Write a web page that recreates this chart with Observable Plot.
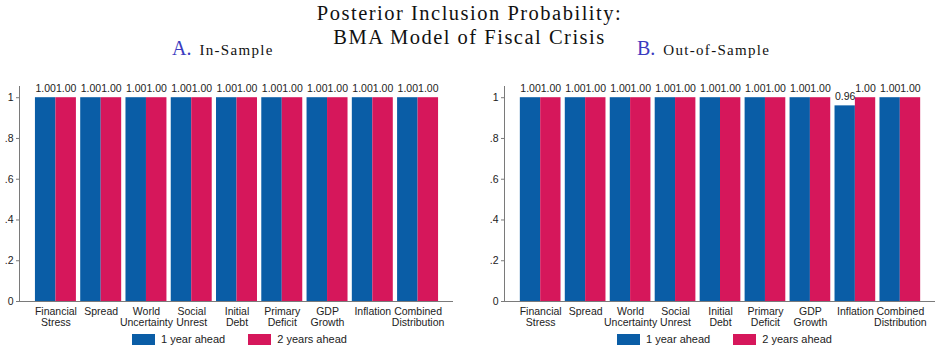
<!DOCTYPE html>
<html>
<head>
<meta charset="utf-8">
<script src="https://cdn.jsdelivr.net/npm/d3@7"></script>
<script src="https://cdn.jsdelivr.net/npm/@observablehq/plot@0.6"></script>
<style>
  body { margin: 0; background: #fff; }
  #chart { position: relative; width: 939px; height: 350px; overflow: hidden; }
  .title { position: absolute; left: 0; width: 939px; text-align: center;
           font-family: "Liberation Serif", "Times New Roman", serif; font-size: 20.5px; line-height: 23px;
           letter-spacing: 1.5px; color: #111; }
  .ptitle { position: absolute; top: 37px; font-family: "Liberation Serif", serif; color: #111; white-space: nowrap; }
  .ptitle .lt { color: #3b3bbf; font-size: 20px; margin-right: 4px; }
  .ptitle .nm { font-size: 15px; letter-spacing: 1.3px; }
  .panel { position: absolute; top: 60px; }
  .legend { position: absolute; top: 333px; font-family: "Liberation Sans", Arial, sans-serif; font-size: 11px; color: #222; white-space: nowrap; }
  .legend span.sw { display: inline-block; width: 23px; height: 11px; vertical-align: -2px; margin-right: 6px; }
  .legend span.it { margin-right: 23px; }
</style>
</head>
<body>
<div id="chart">
  <div class="title" style="top:2px">Posterior Inclusion Probability:</div>
  <div class="title" style="top:26px">BMA Model of Fiscal Crisis</div>
  <div class="ptitle" style="left:172px"><span class="lt">A.</span> <span class="nm">In-Sample</span></div>
  <div class="ptitle" style="left:637px"><span class="lt">B.</span> <span class="nm">Out-of-Sample</span></div>
  <div class="panel" id="pA" style="left:0px"></div>
  <div class="panel" id="pB" style="left:485px"></div>
  <div class="legend" id="lA" style="left:132px"></div>
  <div class="legend" id="lB" style="left:617px"></div>
</div>
<script>
// Explanatory variables of the BMA fiscal-crisis model
const categories = ["Financial Stress", "Spread", "World Uncertainty", "Social Unrest", "Initial Debt",
                    "Primary Deficit", "GDP Growth", "Inflation", "Combined Distribution"];
const tickLabels = ["Financial\nStress", "Spread", "World\nUncertainty", "Social\nUnrest", "Initial\nDebt",
                    "Primary\nDeficit", "GDP\nGrowth", "Inflation", "Combined\nDistribution"];
const horizons = ["1 year ahead", "2 years ahead"];

// Posterior inclusion probabilities
const inSample1  = [1.00, 1.00, 1.00, 1.00, 1.00, 1.00, 1.00, 1.00, 1.00];
const inSample2  = [1.00, 1.00, 1.00, 1.00, 1.00, 1.00, 1.00, 1.00, 1.00];
const outSample1 = [1.00, 1.00, 1.00, 1.00, 1.00, 1.00, 1.00, 0.96, 1.00];
const outSample2 = [1.00, 1.00, 1.00, 1.00, 1.00, 1.00, 1.00, 1.00, 1.00];

const yTicks = [0, 0.2, 0.4, 0.6, 0.8, 1];
const yTickLabels = ["0", ".2", ".4", ".6", ".8", "1"];
const colors = ["#0a5da6", "#d6175b"];
const axisGray = "#7a7a7a";

function panel(v1, v2, width, marginRight) {
  const marginLeft = 20;
  const rows = categories.flatMap((c, i) => [
    {cat: c, h: horizons[0], v: v1[i]},
    {cat: c, h: horizons[1], v: v2[i]}
  ]);
  const fxOptions = {domain: categories, paddingInner: 0.095, paddingOuter: 0.33, round: false};
  // the y axis sits in the first facet; shift it back to the left edge of the plot
  const fxScale = Plot.scale({x: {type: "band", ...fxOptions, range: [marginLeft, width - marginRight]}});
  const axisShift = marginLeft - fxScale.apply(categories[0]);
  const plot = Plot.plot({
    width, height: 275,
    marginLeft, marginRight, marginTop: 26, marginBottom: 34,
    style: {fontFamily: "'Liberation Sans', Arial, sans-serif", fontSize: "10px", color: "#222", background: "transparent"},
    fx: {...fxOptions, label: null},
    x: {domain: horizons, padding: 0, round: false, axis: null},
    y: {domain: [0, 1.055], label: null},
    color: {domain: horizons, range: colors},
    marks: [
      Plot.barY(rows, {fx: "cat", x: "h", y: "v", fill: "h"}),
      Plot.text(rows, {fx: "cat", x: "h", y: "v", text: d => d.v.toFixed(2), dy: -9, fontSize: 10.5}),
      Plot.axisY({ticks: yTicks, tickFormat: d => yTickLabels[yTicks.indexOf(d)], tickSize: 4, tickPadding: 3,
                  stroke: axisGray, label: null, fontSize: 10.5, dx: axisShift}),
      Plot.axisFx({anchor: "bottom", tickSize: 0, tickPadding: 5, tickFormat: d => tickLabels[categories.indexOf(d)],
                   label: null, lineHeight: 1.1, fontSize: 10.5})
    ]
  });
  // axis lines spanning the whole plot region
  const y = plot.scale("y"), fx = plot.scale("fx");
  const svg = d3.select(plot.tagName === "svg" ? plot : plot.querySelector("svg"));
  const y0 = y.apply(0), yTop = Math.min(...y.range);
  const [xl, xr] = fx.range;
  svg.append("line").attr("x1", xl - 0.5).attr("x2", xl - 0.5).attr("y1", yTop).attr("y2", y0)
     .attr("stroke", axisGray).attr("stroke-width", 1);
  svg.append("line").attr("x1", xl - 0.5).attr("x2", xr).attr("y1", y0 + 0.5).attr("y2", y0 + 0.5)
     .attr("stroke", axisGray).attr("stroke-width", 1);
  return plot;
}

function legend(el) {
  horizons.forEach((h, i) => {
    const sw = document.createElement("span");
    sw.className = "sw"; sw.style.background = colors[i];
    const t = document.createElement("span");
    t.className = "it"; t.textContent = h;
    el.append(sw, t);
  });
}

document.getElementById("pA").append(panel(inSample1, inSample2, 470, 17));
document.getElementById("pB").append(panel(outSample1, outSample2, 454, 4));
legend(document.getElementById("lA"));
legend(document.getElementById("lB"));
</script>
</body>
</html>
